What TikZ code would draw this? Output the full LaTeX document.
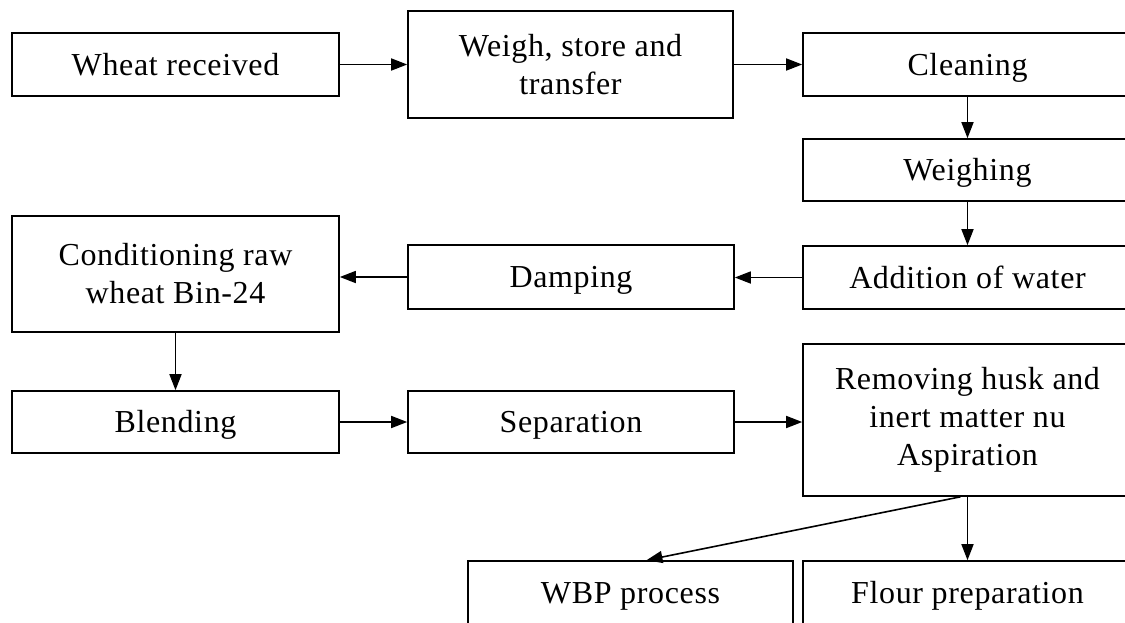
\documentclass[tikz,border=0pt]{standalone}
\usepackage{fontspec}
\setmainfont{Liberation Serif}[LetterSpace=2]
\usetikzlibrary{arrows.meta,calc}
\begin{document}
\begin{tikzpicture}[x=1pt,y=-1pt,
  box/.style={draw,line width=1.6pt,inner sep=0pt,align=center,font=\fontsize{32}{38}\selectfont},
  one/.style={text height=26pt,text depth=5pt},
  arr/.style={line width=1.6pt,-{Triangle[length=16pt,width=12pt]}}]
\useasboundingbox (0,0) rectangle (1125,622);
\clip (0,0) rectangle (1125,622);
\node[box,one,minimum width=327pt,minimum height=63pt] (wheat) at (175.5,64.5) {Wheat received};
\node[box,minimum width=325pt,minimum height=107pt] (weigh) at (570.5,64.5) {Weigh, store and\\transfer};
\node[box,one,minimum width=329pt,minimum height=63pt] (clean) at (967.5,64.5) {Cleaning};
\node[box,one,minimum width=329pt,minimum height=62pt] (weighing) at (967.5,170) {Weighing};
\node[box,one,minimum width=329pt,minimum height=63pt] (water) at (967.5,277.5) {Addition of water};
\node[box,one,minimum width=326pt,minimum height=64pt] (damp) at (571,277) {Damping};
\node[box,minimum width=327pt,minimum height=116pt] (cond) at (175.5,274) {Conditioning raw\\wheat Bin-24};
\node[box,one,minimum width=327pt,minimum height=62pt] (blend) at (175.5,422) {Blending};
\node[box,one,minimum width=326pt,minimum height=62pt] (sep) at (571,422) {Separation};
\node[box,minimum width=329pt,minimum height=152pt] (rem) at (967.5,420) {Removing husk and\\inert matter nu\\Aspiration};
\node[box,one,minimum width=325pt,minimum height=64pt] (wbp) at (630.5,593) {WBP process};
\node[box,one,minimum width=329pt,minimum height=64pt] (flour) at (967.5,593) {Flour preparation};
\draw[arr] (wheat) -- (weigh);
\draw[arr] (weigh) -- (clean);
\draw[arr] (clean) -- (weighing);
\draw[arr] (weighing) -- (water);
\draw[arr] (water.west) -- (water.west -| damp.east);
\draw[arr] (damp.west) -- (damp.west -| cond.east);
\draw[arr] (cond) -- (blend);
\draw[arr] (blend) -- (sep);
\draw[arr] (sep.east) -- (sep.east -| rem.west);
\draw[arr] (rem) -- (flour);
\draw[arr] ([xshift=-7pt]rem.south) -- ([xshift=16pt]wbp.north);
\end{tikzpicture}
\end{document}
